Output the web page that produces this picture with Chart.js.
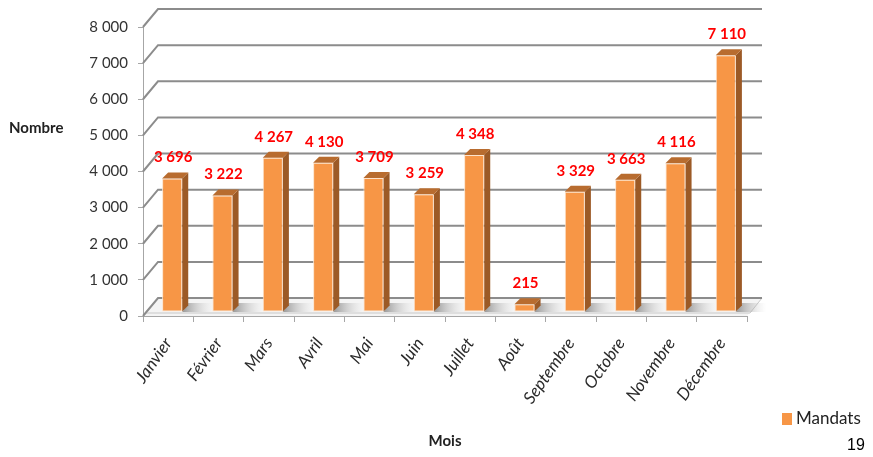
<!DOCTYPE html>
<html lang="fr">
<head>
<meta charset="UTF-8">
<title>Mandats par mois</title>
<script src="https://cdn.jsdelivr.net/npm/chart.js"></script>
<style>
  html, body { margin: 0; padding: 0; background: #fff; }
  #wrap { width: 873px; height: 457px; }
</style>
</head>
<body>
<div id="wrap"><canvas id="mandatsChart" width="873" height="457"></canvas></div>
<script>
const months = ['Janvier', 'Février', 'Mars', 'Avril', 'Mai', 'Juin', 'Juillet',
                'Août', 'Septembre', 'Octobre', 'Novembre', 'Décembre'];
const mandats = [3696, 3222, 4267, 4130, 3709, 3259, 4348, 215, 3329, 3663, 4116, 7110];
const seriesName = 'Mandats';
const yMax = 8000;
const yStep = 1000;

const FRONT = '#f79646';
const SIDE = '#9c5a26';
const TOP = '#b86c2f';
const GRID = '#8c8c8c';

// depth of the back wall and of each bar (pseudo 3D)
const wall = { dx: 15, dy: -18 };
const barShift = { dx: 4, dy: -4 };
const barDepth = 6;

function fmt(v) {
  return String(v).replace(/\B(?=(\d{3})+(?!\d))/g, ' ');
}

const pseudo3d = {
  id: 'pseudo3d',
  beforeDatasetsDraw(chart) {
    const { ctx, chartArea: a, scales: { y } } = chart;
    ctx.save();

    // floor slab
    const fy = y.getPixelForValue(0);
    ctx.fillStyle = '#f4f4f4';
    ctx.beginPath();
    ctx.moveTo(a.left, fy);
    ctx.lineTo(a.left + wall.dx, fy + wall.dy);
    ctx.lineTo(a.right + wall.dx, fy + wall.dy);
    ctx.lineTo(a.right, fy);
    ctx.closePath();
    ctx.fill();
    ctx.strokeStyle = '#c8c8c8';
    ctx.lineWidth = 1;
    ctx.beginPath();
    ctx.moveTo(a.left + 3, fy - 3);
    ctx.lineTo(a.right + 3, fy - 3);
    ctx.lineTo(a.right + wall.dx, fy + wall.dy);
    ctx.stroke();

    // shadows on the floor next to each bar
    const meta = chart.getDatasetMeta(0);
    meta.data.forEach(bar => {
      const x0 = bar.x + bar.width / 2 + barShift.dx;
      const g = ctx.createLinearGradient(x0, 0, x0 + 30, 0);
      g.addColorStop(0, 'rgba(120,120,120,0.75)');
      g.addColorStop(1, 'rgba(200,200,200,0)');
      ctx.fillStyle = g;
      ctx.beginPath();
      ctx.moveTo(x0, fy - 4);
      ctx.lineTo(x0 + 30, fy - 4);
      ctx.lineTo(x0 + 36, fy - 13);
      ctx.lineTo(x0 + 6, fy - 13);
      ctx.closePath();
      ctx.fill();
    });

    // back wall grid lines with their diagonal connectors
    ctx.strokeStyle = GRID;
    ctx.lineWidth = 2;
    for (let v = 0; v <= yMax; v += yStep) {
      const py = y.getPixelForValue(v);
      ctx.beginPath();
      ctx.moveTo(a.left, py);
      ctx.lineTo(a.left + wall.dx, py + wall.dy);
      ctx.lineTo(a.right + wall.dx, py + wall.dy);
      ctx.stroke();
    }
    ctx.restore();

    ctx.save();
    ctx.translate(barShift.dx, barShift.dy);
  },
  afterDatasetsDraw(chart) {
    const { ctx } = chart;
    const meta = chart.getDatasetMeta(0);
    const values = chart.data.datasets[0].data;
    meta.data.forEach((bar, i) => {
      const l = bar.x - bar.width / 2;
      const r = bar.x + bar.width / 2;
      const t = bar.y;
      const b = bar.base;
      ctx.fillStyle = SIDE;
      ctx.beginPath();
      ctx.moveTo(r, t);
      ctx.lineTo(r + barDepth, t - barDepth);
      ctx.lineTo(r + barDepth, b - barDepth);
      ctx.lineTo(r, b);
      ctx.closePath();
      ctx.fill();
      ctx.fillStyle = TOP;
      ctx.beginPath();
      ctx.moveTo(l, t);
      ctx.lineTo(l + barDepth, t - barDepth);
      ctx.lineTo(r + barDepth, t - barDepth);
      ctx.lineTo(r, t);
      ctx.closePath();
      ctx.fill();

      ctx.fillStyle = '#ff0000';
      ctx.font = 'bold 15px Lato';
      ctx.textAlign = 'center';
      ctx.textBaseline = 'middle';
      ctx.fillText(fmt(values[i]), bar.x + 1, t - 21);
    });
    ctx.restore();
  },
  afterDraw(chart) {
    const { ctx } = chart;
    ctx.save();
    ctx.fillStyle = '#222';
    ctx.font = 'bold 15px Lato';
    ctx.textAlign = 'left';
    ctx.textBaseline = 'middle';
    ctx.fillText('Nombre', 9, 128);

    // legend
    ctx.fillStyle = FRONT;
    ctx.fillRect(782, 413, 10, 12);
    ctx.fillStyle = '#222';
    ctx.font = '17px Lato';
    ctx.fillText(seriesName, 796, 419);

    ctx.font = '16px "Liberation Sans"';
    ctx.fillStyle = '#000';
    ctx.fillText('19', 847, 446);
    ctx.restore();
  }
};

new Chart(document.getElementById('mandatsChart'), {
  type: 'bar',
  data: {
    labels: months,
    datasets: [{
      label: seriesName,
      data: mandats,
      backgroundColor: FRONT,
      borderColor: '#fde3cc',
      borderWidth: 1,
      borderSkipped: false,
      barPercentage: 0.4,
      categoryPercentage: 1
    }]
  },
  options: {
    responsive: false,
    animation: false,
    layout: { padding: { left: 0, right: 126, top: 27, bottom: 0 } },
    plugins: {
      legend: { display: false },
      tooltip: { enabled: false }
    },
    scales: {
      x: {
        afterFit(scale) { scale.height = 141; },
        border: { display: true, color: '#a6a6a6', width: 1 },
        grid: { display: true, drawOnChartArea: false, drawTicks: true, tickLength: 6, color: '#a6a6a6', offset: true },
        ticks: {
          minRotation: 55,
          maxRotation: 55,
          padding: 12,
          color: '#2b2b2b',
          font: { family: 'Lato', size: 17, style: 'italic' }
        },
        title: {
          display: true,
          text: 'Mois',
          color: '#222',
          font: { family: 'Lato', size: 15, weight: 'bold' },
          padding: { top: 0, bottom: 7 }
        }
      },
      y: {
        min: 0,
        max: yMax,
        afterFit(scale) { scale.width = 143; },
        border: { display: true, color: '#a6a6a6', width: 1 },
        grid: { display: true, drawOnChartArea: false, drawTicks: true, tickLength: 5, color: '#a6a6a6' },
        ticks: {
          stepSize: yStep,
          padding: 10,
          color: '#333',
          font: { family: 'Lato', size: 15 },
          callback: v => fmt(v)
        }
      }
    }
  },
  plugins: [pseudo3d]
});
</script>
</body>
</html>
